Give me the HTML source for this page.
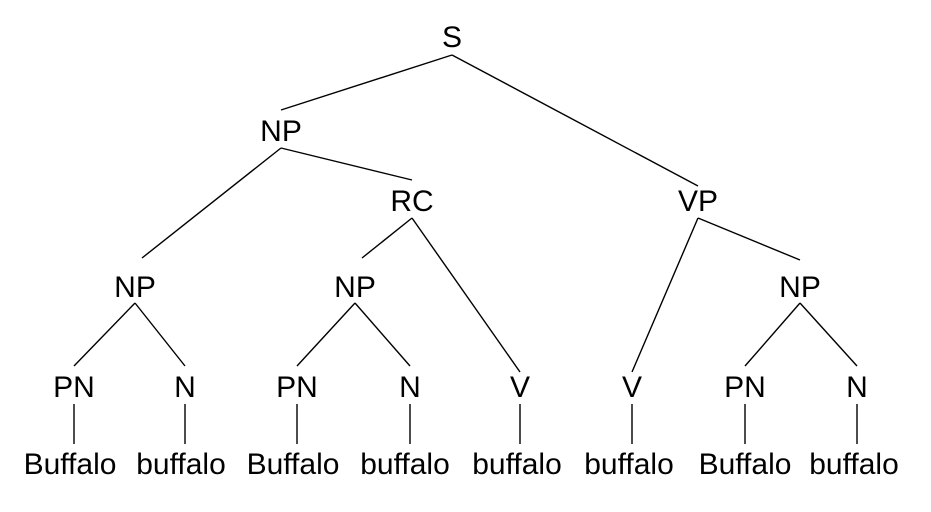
<!DOCTYPE html>
<html><head><style>
html,body{margin:0;padding:0;background:#fff;}
svg{display:block;}
text{font-family:"Liberation Sans",sans-serif;font-size:30px;fill:#000;text-anchor:middle;}
line{stroke:#000;stroke-width:1.4;}
</style></head><body>
<svg width="931" height="512" viewBox="0 0 931 512">
<text x="452" y="47">S</text>
<text x="281" y="141">NP</text>
<text x="412" y="211">RC</text>
<text x="698" y="211">VP</text>
<text x="135" y="297">NP</text>
<text x="355" y="297">NP</text>
<text x="800" y="297">NP</text>
<text x="74" y="397">PN</text>
<text x="185" y="397">N</text>
<text x="297" y="397">PN</text>
<text x="410" y="397">N</text>
<text x="520" y="397">V</text>
<text x="632" y="397">V</text>
<text x="745" y="397">PN</text>
<text x="857" y="397">N</text>
<text x="70" y="474">Buffalo</text>
<text x="181" y="474">buffalo</text>
<text x="293" y="474">Buffalo</text>
<text x="405" y="474">buffalo</text>
<text x="517" y="474">buffalo</text>
<text x="629" y="474">buffalo</text>
<text x="745" y="474">Buffalo</text>
<text x="854" y="474">buffalo</text>
<line x1="452" y1="55" x2="281" y2="110"/>
<line x1="452" y1="55" x2="698" y2="186"/>
<line x1="281" y1="148" x2="142" y2="258"/>
<line x1="281" y1="148" x2="412" y2="180"/>
<line x1="412" y1="218" x2="362" y2="258"/>
<line x1="412" y1="218" x2="520" y2="372"/>
<line x1="698" y1="218" x2="632" y2="372"/>
<line x1="698" y1="218" x2="800" y2="260"/>
<line x1="135" y1="303" x2="74" y2="366"/>
<line x1="135" y1="303" x2="185" y2="366"/>
<line x1="355" y1="303" x2="297" y2="366"/>
<line x1="355" y1="303" x2="410" y2="366"/>
<line x1="800" y1="303" x2="745" y2="366"/>
<line x1="800" y1="303" x2="857" y2="366"/>
<line x1="74" y1="404" x2="74" y2="444"/>
<line x1="185" y1="404" x2="185" y2="444"/>
<line x1="297" y1="404" x2="297" y2="444"/>
<line x1="410" y1="404" x2="410" y2="444"/>
<line x1="520" y1="404" x2="520" y2="444"/>
<line x1="632" y1="404" x2="632" y2="444"/>
<line x1="745" y1="404" x2="745" y2="444"/>
<line x1="857" y1="404" x2="857" y2="444"/>
</svg>
</body></html>
